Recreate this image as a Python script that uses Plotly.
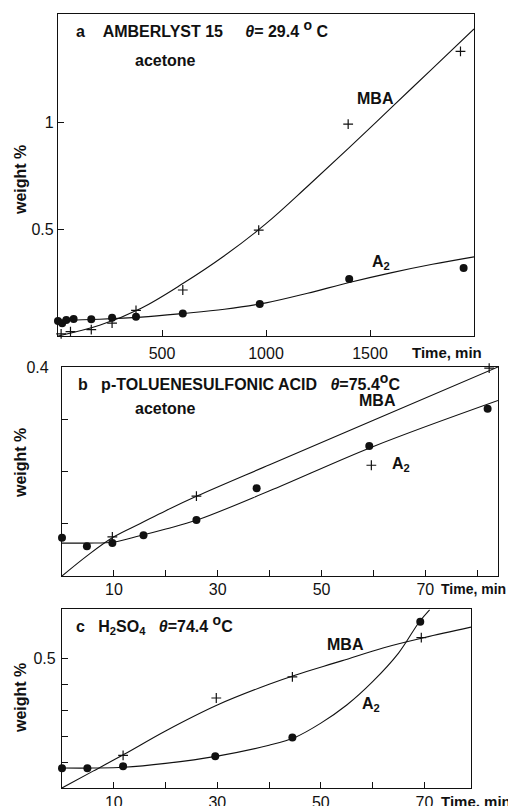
import plotly.graph_objects as go

W, H = 508, 806

# ---------------- data ----------------
# Panel a: Amberlyst 15, time in min
a_mba_t = [15, 60, 160, 260, 375, 600, 965, 1395, 1935]
a_mba_w = [0.01, 0.02, 0.03, 0.06, 0.12, 0.215, 0.495, 0.99, 1.33]
a_a2_t = [0, 20, 40, 75, 160, 260, 375, 600, 970, 1400, 1950]
a_a2_w = [0.07, 0.06, 0.075, 0.08, 0.078, 0.085, 0.09, 0.105, 0.15, 0.266, 0.318]
a_mba_fit_t = [0, 200, 400, 600, 800, 1000, 1200, 1400, 1600, 1800, 2000]
a_mba_fit_w = [0.0, 0.05, 0.13, 0.245, 0.375, 0.525, 0.70, 0.88, 1.065, 1.25, 1.435]
a_a2_fit_t = [0, 200, 400, 600, 800, 1000, 1200, 1400, 1600, 1800, 2000]
a_a2_fit_w = [0.072, 0.078, 0.088, 0.105, 0.125, 0.155, 0.20, 0.25, 0.295, 0.335, 0.37]

# Panel b: p-toluenesulfonic acid
b_mba_t = [9.7, 25.9, 59.6, 82.3]
b_mba_w = [0.075, 0.153, 0.212, 0.398]
b_a2_t = [0, 4.8, 9.7, 15.7, 25.9, 37.5, 59.2, 82.0]
b_a2_w = [0.073, 0.057, 0.063, 0.078, 0.107, 0.168, 0.249, 0.32]
b_mba_fit_t = [0, 5, 10, 15, 20, 26, 40, 60, 84]
b_mba_fit_w = [0.0, 0.04, 0.075, 0.10, 0.125, 0.153, 0.213, 0.298, 0.40]
b_a2_fit_t = [0, 5, 10, 15, 20, 26, 40, 60, 84]
b_a2_fit_w = [0.063, 0.063, 0.065, 0.077, 0.09, 0.107, 0.163, 0.248, 0.336]

# Panel c: H2SO4
c_mba_t = [11.8, 29.8, 44.5, 69.4]
c_mba_w = [0.126, 0.347, 0.428, 0.58]
c_a2_t = [0, 4.9, 11.8, 29.6, 44.5, 69.2]
c_a2_w = [0.076, 0.076, 0.084, 0.122, 0.195, 0.641]
c_mba_fit_t = [0, 6, 12, 20, 30, 40, 45, 54, 62, 70, 79]
c_mba_fit_w = [0.0, 0.065, 0.13, 0.22, 0.32, 0.40, 0.435, 0.49, 0.54, 0.58, 0.62]
c_a2_fit_t = [0, 6, 12, 20, 30, 40, 45, 50, 55, 60, 65, 69, 71]
c_a2_fit_w = [0.077, 0.077, 0.08, 0.095, 0.123, 0.165, 0.195, 0.25, 0.32, 0.41, 0.52, 0.64, 0.687]

a_xticks = [500, 1000, 1500]
a_xticktext = ["500", "1000", "1500"]
a_yticks = [0.5, 1]
a_yticktext = ["0.5", "1"]
bc_xticks = [10, 20, 30, 40, 50, 60, 70, 80]
bc_xticktext = ["10", "", "30", "", "50", "", "70", ""]
b_yticks = [0.1, 0.2, 0.3, 0.4]
b_yticktext = ["", "", "", "0.4"]
c_yticks = [0.1, 0.2, 0.3, 0.4, 0.5]
c_yticktext = ["", "", "", "", "0.5"]

# ---------------- figure ----------------
FONT = "Liberation Sans, Arial, Helvetica, sans-serif"
INK = "#111111"
FS = 16
SP = "\u00a0"
DEG = "<sup><span style='font-size:14px'>o</span></sup>"


def px(x):
    return x / W


def py(y):
    return 1 - y / H


fig = go.Figure()

panels = [
    ("x", "y", a_mba_t, a_mba_w, a_a2_t, a_a2_w, a_mba_fit_t, a_mba_fit_w, a_a2_fit_t, a_a2_fit_w),
    ("x2", "y2", b_mba_t, b_mba_w, b_a2_t, b_a2_w, b_mba_fit_t, b_mba_fit_w, b_a2_fit_t, b_a2_fit_w),
    ("x3", "y3", c_mba_t, c_mba_w, c_a2_t, c_a2_w, c_mba_fit_t, c_mba_fit_w, c_a2_fit_t, c_a2_fit_w),
]
for xa, ya, mt, mw, at, aw, mft, mfw, aft, afw in panels:
    fig.add_trace(go.Scatter(x=mft, y=mfw, mode="lines", xaxis=xa, yaxis=ya,
                             line=dict(color=INK, width=1.1, shape="spline", smoothing=1.0),
                             showlegend=False, hoverinfo="skip"))
    fig.add_trace(go.Scatter(x=aft, y=afw, mode="lines", xaxis=xa, yaxis=ya,
                             line=dict(color=INK, width=1.1, shape="spline", smoothing=1.0),
                             showlegend=False, hoverinfo="skip"))
    fig.add_trace(go.Scatter(x=mt, y=mw, mode="markers", xaxis=xa, yaxis=ya,
                             marker=dict(symbol="cross-thin-open", size=7, color=INK,
                                         line=dict(color=INK, width=1.2)),
                             showlegend=False, cliponaxis=False))
    fig.add_trace(go.Scatter(x=at, y=aw, mode="markers", xaxis=xa, yaxis=ya,
                             marker=dict(symbol="circle", size=8, color=INK),
                             showlegend=False, cliponaxis=False))

axis_common = dict(showline=True, linecolor=INK, linewidth=1.3, mirror=True,
                   showgrid=False, zeroline=False, ticks="inside", ticklen=6,
                   tickcolor=INK, tickwidth=1.2, automargin=False,
                   tickfont=dict(family=FONT, size=FS, color=INK))

fig.update_layout(
    width=W, height=H,
    margin=dict(l=0, r=0, t=0, b=0, autoexpand=False),
    paper_bgcolor="white", plot_bgcolor="white",
    font=dict(family=FONT, size=FS, color=INK),
    xaxis=dict(domain=[px(58), px(474)], range=[0, 2000], anchor="y",
               tickvals=a_xticks, ticktext=a_xticktext, ticklabelstandoff=3, **axis_common),
    yaxis=dict(domain=[py(336), py(14)], range=[0, 1.505], anchor="x",
               tickvals=a_yticks, ticktext=a_yticktext, ticklabelstandoff=0, **axis_common),
    xaxis2=dict(domain=[px(62), px(498)], range=[0, 84], anchor="y2",
                tickvals=bc_xticks, ticktext=bc_xticktext, ticklabelstandoff=-1, **axis_common),
    yaxis2=dict(domain=[py(576), py(367)], range=[0, 0.4], anchor="x2",
                tickvals=b_yticks, ticktext=b_yticktext, ticklabelstandoff=9, **axis_common),
    xaxis3=dict(domain=[px(62), px(471)], range=[0, 79], anchor="y3",
                tickvals=bc_xticks, ticktext=bc_xticktext, ticklabelstandoff=0, **axis_common),
    yaxis3=dict(domain=[py(788), py(609)], range=[0, 0.69], anchor="x3",
                tickvals=c_yticks, ticktext=c_yticktext, ticklabelstandoff=2, **axis_common),
)


def note(text, x, y, xanchor="left", size=FS, angle=0):
    fig.add_annotation(text=text, x=px(x), y=py(y), xref="paper", yref="paper",
                       xanchor=xanchor, yanchor="middle", showarrow=False,
                       textangle=angle,
                       font=dict(family=FONT, size=size, color=INK))


# panel a texts
note("<b>a" + SP * 4 + "AMBERLYST 15" + SP * 5 + "<i>θ</i>= 29.4" + SP + DEG + SP + "C</b>", 74, 29)
note("<b>acetone</b>", 133, 60)
note("<b>MBA</b>", 355, 98)
note("<b>A<sub>2</sub></b>", 370, 262)
note("<b>Time, min</b>", 447, 352, xanchor="center", size=15)
note("<b>weight %</b>", 20, 180, xanchor="center", angle=-90)

# panel b texts
note("<b>b" + SP * 3 + "p-TOLUENESULFONIC ACID" + SP * 3 + "<i>θ</i>=75.4" + DEG + "C</b>", 76, 382)
note("<b>acetone</b>", 133, 408)
note("<b>MBA</b>", 357, 400)
note("<b>A<sub>2</sub></b>", 390, 465)
note("<b>Time, min</b>", 508, 589, xanchor="right", size=14)
note("<b>weight %</b>", 20, 463, xanchor="center", angle=-90)

# panel c texts
note("<b>c" + SP * 3 + "H<sub>2</sub>SO<sub>4</sub>" + SP * 3 + "<i>θ</i>=74.4" + SP + DEG + "C</b>", 74, 624)
note("<b>MBA</b>", 325, 644)
note("<b>A<sub>2</sub></b>", 360, 704)
note("<b>Time, min</b>", 476, 801, xanchor="center", size=15)
note("<b>weight %</b>", 20, 698, xanchor="center", angle=-90)

fig.write_html("out.html", config={"displayModeBar": False},
               post_script="document.body.style.margin='0px';document.body.style.overflow='hidden';")
